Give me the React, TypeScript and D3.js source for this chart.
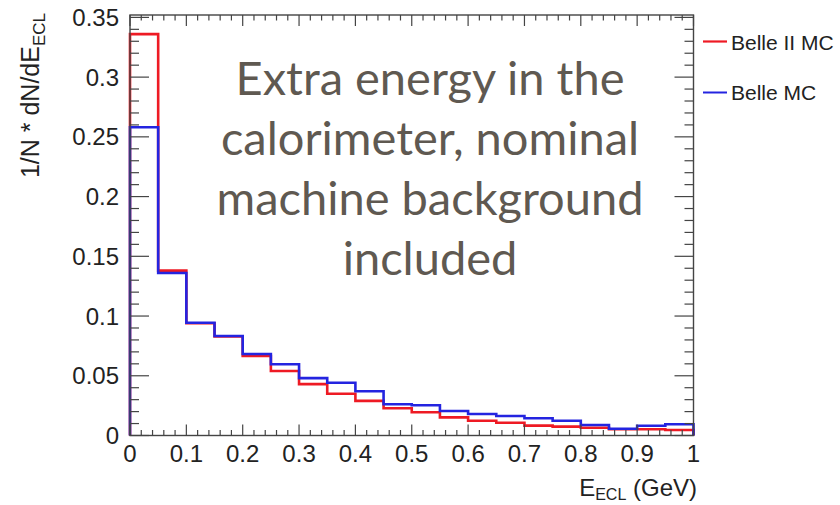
import React from "react";
import * as d3 from "d3";

// Histogram bin lower edges (GeV), bin width 0.05
const binLow = [0, 0.05, 0.1, 0.15, 0.2, 0.25, 0.3, 0.35, 0.4, 0.45, 0.5, 0.55, 0.6, 0.65, 0.7, 0.75, 0.8, 0.85, 0.9, 0.95];
const binHigh = 1.0;

const belle2MC = [0.336, 0.138, 0.094, 0.083, 0.0665, 0.054, 0.043, 0.035, 0.029, 0.0228, 0.0195, 0.0152, 0.0124, 0.0107, 0.0083, 0.0074, 0.0065, 0.0052, 0.0052, 0.0046];
const belleMC = [0.258, 0.136, 0.0944, 0.0833, 0.0682, 0.0596, 0.048, 0.0442, 0.037, 0.0262, 0.0253, 0.0205, 0.018, 0.0163, 0.0144, 0.0124, 0.0088, 0.0057, 0.0082, 0.0094];

const xTickLabels = ["0", "0.1", "0.2", "0.3", "0.4", "0.5", "0.6", "0.7", "0.8", "0.9", "1"];
const yTickLabels = ["0", "0.05", "0.1", "0.15", "0.2", "0.25", "0.3", "0.35"];

const seriesNames = ["Belle II MC", "Belle MC"];
const overlayLines = ["Extra energy in the", "calorimeter, nominal", "machine background", "included"];

const W = 840, H = 505;
const left = 130, right = 693.5, top = 15, bottom = 435.5;
const RED = "#ee1a24";
const BLUE = "#2424e0";
const AX = "#444";
const TXT = "#222";
const FONT = "'Liberation Sans', Arial, Helvetica, sans-serif";

export default function App() {
  const x = d3.scaleLinear().domain([0, 1]).range([left, right]);
  const y = d3.scaleLinear().domain([0, 0.352]).range([bottom, top]);

  const stepPath = (vals: number[]) => {
    const pts: [number, number][] = [[0, 0]];
    binLow.forEach((b, i) => pts.push([b, vals[i]]));
    pts.push([binHigh, vals[vals.length - 1]]);
    pts.push([binHigh, 0]);
    return d3.line<[number, number]>().x(d => x(d[0])).y(d => y(d[1])).curve(d3.curveStepAfter)(pts) || "";
  };

  const xMinor = d3.range(0, 51).map(i => i * 0.02);
  const yMinor = d3.range(0, 36).map(i => i * 0.01);

  return (
    <svg width={W} height={H} style={{ position: "absolute", left: 0, top: 0, background: "#fff" }}>
      <rect x={0} y={0} width={W} height={H} fill="#fff" />
      {/* histograms */}
      <path d={stepPath(belle2MC)} fill="none" stroke={RED} strokeWidth={2.6} />
      <path d={stepPath(belleMC)} fill="none" stroke={BLUE} strokeWidth={2.6} />

      {/* frame */}
      <rect x={left} y={top} width={right - left} height={bottom - top} fill="none" stroke={AX} strokeWidth={1.4} />

      {/* x ticks bottom and top */}
      {xMinor.map((v, i) => {
        const major = i % 5 === 0;
        const len = major ? 11 : 5.5;
        return (
          <g key={"xt" + i} stroke={AX} strokeWidth={1.2}>
            <line x1={x(v)} x2={x(v)} y1={bottom} y2={bottom - len} />
            <line x1={x(v)} x2={x(v)} y1={top} y2={top + len} />
          </g>
        );
      })}
      {/* y ticks left and right */}
      {yMinor.map((v, i) => {
        const major = i % 5 === 0;
        const len = major ? 19 : 9;
        return (
          <g key={"yt" + i} stroke={AX} strokeWidth={1.2}>
            <line x1={left} x2={left + len} y1={y(v)} y2={y(v)} />
            <line x1={right} x2={right - len} y1={y(v)} y2={y(v)} />
          </g>
        );
      })}

      {/* tick labels */}
      {xTickLabels.map((t, i) => (
        <text key={"xl" + i} x={x(+t)} y={462} textAnchor="middle" fontFamily={FONT} fontSize={24} fill={TXT}>{t}</text>
      ))}
      {yTickLabels.map((t, i) => (
        <text key={"yl" + i} x={119} y={y(+t)} dy="0.36em" textAnchor="end" fontFamily={FONT} fontSize={24} fill={TXT}>{t}</text>
      ))}

      {/* axis titles */}
      <text transform="translate(39,13) rotate(-90)" textAnchor="end" fontFamily={FONT} fontSize={25} fill={TXT}>
        1/N * dN/dE<tspan fontSize={17} dy={6}>ECL</tspan>
      </text>
      <text x={697} y={496} textAnchor="end" fontFamily={FONT} fontSize={24} fill={TXT}>
        E<tspan fontSize={16} dy={4}>ECL</tspan><tspan dy={-4}> (GeV)</tspan>
      </text>

      {/* legend */}
      <line x1={703} x2={727} y1={41.5} y2={41.5} stroke={RED} strokeWidth={2.2} />
      <text x={731} y={50} fontFamily={FONT} fontSize={21} fill={TXT}>{seriesNames[0]}</text>
      <line x1={703} x2={727} y1={92.5} y2={92.5} stroke={BLUE} strokeWidth={2} />
      <text x={731} y={100} fontFamily={FONT} fontSize={21} fill={TXT}>{seriesNames[1]}</text>

      {/* overlay annotation */}
      {overlayLines.map((l, i) => (
        <text key={"ol" + i} x={430} y={95 + i * 60} textAnchor="middle" fontFamily="Lato, 'Open Sans', sans-serif" fontSize={47} fill="#5f5951">{l}</text>
      ))}
    </svg>
  );
}
